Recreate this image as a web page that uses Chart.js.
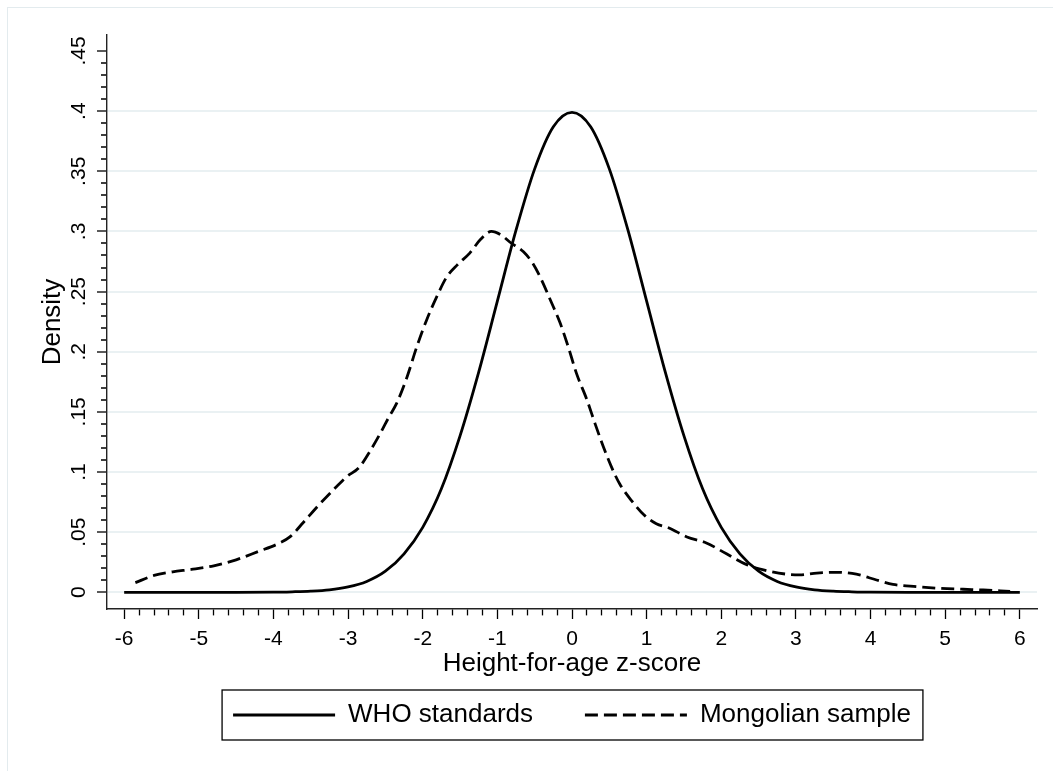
<!DOCTYPE html>
<html>
<head>
<meta charset="utf-8">
<script src="https://cdn.jsdelivr.net/npm/chart.js@4.4.0/dist/chart.umd.min.js"></script>
<style>
  html, body { margin: 0; padding: 0; background: #fff; }
  #wrap { width: 1053px; height: 771px; }
</style>
</head>
<body>
<div id="wrap"><canvas id="densityChart"></canvas></div>
<script>
// WHO standards curve
const whoZ = [-6, -5.5, -5, -4.5, -4, -3.75, -3.5, -3.25, -3, -2.75, -2.5, -2.25, -2, -1.75, -1.5, -1.25, -1, -0.75, -0.5, -0.25,
  0, 0.25, 0.5, 0.75, 1, 1.25, 1.5, 1.75, 2, 2.25, 2.5, 2.75, 3, 3.25, 3.5, 3.75, 4, 4.5, 5, 5.5, 6];
const whoDensity = [0, 0, 0, 0, 0.0001, 0.0004, 0.0009, 0.002, 0.0044, 0.009, 0.0175, 0.032, 0.054, 0.086, 0.130, 0.183, 0.242, 0.301, 0.352, 0.387,
  0.399, 0.387, 0.352, 0.301, 0.242, 0.183, 0.130, 0.086, 0.054, 0.032, 0.0175, 0.009, 0.0044, 0.002, 0.0009, 0.0004, 0.0001, 0, 0, 0, 0];

// Mongolian sample curve
const mongolZ = [-5.85, -5.6, -5.35, -5.1, -4.8, -4.5, -4.2, -3.95, -3.78, -3.6, -3.4, -3.2, -3.02, -2.85, -2.7, -2.57, -2.45, -2.35,
  -2.21, -2.08, -1.95, -1.81, -1.68, -1.54, -1.37, -1.23, -1.08, -0.95, -0.83, -0.65, -0.52, -0.41, -0.29, -0.16, -0.05,
  0.06, 0.2, 0.31, 0.42, 0.53, 0.64, 0.8, 0.97, 1.13, 1.3, 1.54, 1.8, 2.07, 2.34, 2.61, 2.88, 3.05, 3.28, 3.54, 3.81,
  4.08, 4.3, 4.62, 4.93, 5.24, 5.51, 5.87];
const mongolDensity = [0.008, 0.014, 0.017, 0.019, 0.022, 0.027, 0.034, 0.040, 0.046, 0.058, 0.072, 0.085, 0.096, 0.104, 0.118, 0.132, 0.146, 0.157,
  0.179, 0.204, 0.226, 0.246, 0.262, 0.272, 0.282, 0.293, 0.300, 0.297, 0.291, 0.283, 0.273, 0.260, 0.243, 0.224, 0.204,
  0.182, 0.160, 0.140, 0.121, 0.104, 0.090, 0.076, 0.064, 0.057, 0.0535, 0.046, 0.041, 0.032, 0.023, 0.018, 0.015, 0.0145, 0.016, 0.0166, 0.015,
  0.0102, 0.0066, 0.0047, 0.0033, 0.0025, 0.0019, 0.0008];

const seriesNames = ["WHO standards", "Mongolian sample"];
const xTitle = "Height-for-age z-score";
const yTitle = "Density";

function toPoints(xs, ys) {
  return xs.map((x, i) => ({ x: x, y: ys[i] }));
}

function isMajorX(v) { return Math.abs(v - Math.round(v)) < 1e-6; }
function isMajorY(v) { return Math.abs(v * 20 - Math.round(v * 20)) < 1e-6; }

Chart.defaults.font.family = "'Liberation Sans', Arial, Helvetica, sans-serif";
Chart.defaults.color = "#000";

const pageFrame = {
  id: "pageFrame",
  beforeDraw(chart) {
    const ctx = chart.ctx;
    ctx.save();
    ctx.fillStyle = "#fff";
    ctx.fillRect(0, 0, chart.width, chart.height);
    ctx.strokeStyle = "#e3ebee";
    ctx.lineWidth = 1;
    ctx.strokeRect(7.5, 7.5, chart.width + 20, chart.height + 20);
    ctx.restore();
  }
};

// Stata draws a box round the key
const legendFrame = {
  id: "legendFrame",
  afterDraw(chart) {
    const boxes = chart.legend && chart.legend.legendHitBoxes;
    if (!boxes || !boxes.length) return;
    const first = boxes[0];
    const last = boxes[boxes.length - 1];
    const ctx = chart.ctx;
    ctx.save();
    ctx.strokeStyle = "#000";
    ctx.lineWidth = 1.3;
    ctx.strokeRect(first.left - 11, first.top - 12, last.left + last.width - first.left + 23, first.height + 24);
    ctx.restore();
  }
};

new Chart(document.getElementById("densityChart"), {
  type: "line",
  data: {
    datasets: [
      {
        label: seriesNames[0],
        data: toPoints(whoZ, whoDensity),
        borderColor: "#000",
        borderWidth: 2.8,
        pointRadius: 0,
        cubicInterpolationMode: "monotone",
        fill: false
      },
      {
        label: seriesNames[1],
        data: toPoints(mongolZ, mongolDensity),
        borderColor: "#000",
        borderWidth: 2.8,
        borderDash: [13, 6],
        pointRadius: 0,
        cubicInterpolationMode: "monotone",
        fill: false
      }
    ]
  },
  options: {
    responsive: true,
    maintainAspectRatio: false,
    animation: false,
    layout: { padding: { top: 35, left: 30, right: 16, bottom: 33 } },
    plugins: {
      tooltip: { enabled: false },
      legend: {
        position: "bottom",
        fullSize: false,
        labels: {
          usePointStyle: true,
          pointStyle: "line",
          pointStyleWidth: 102,
          padding: 23,
          color: "#000",
          font: { size: 26 },
          generateLabels(chart) {
            const items = Chart.defaults.plugins.legend.labels.generateLabels(chart);
            items.forEach((item, i) => {
              const ds = chart.data.datasets[i];
              item.lineDash = ds.borderDash || [];
              item.lineWidth = 3;
              item.strokeStyle = ds.borderColor;
            });
            items[0].text += "    ";
            return items;
          }
        }
      }
    },
    scales: {
      x: {
        type: "linear",
        min: -6.23,
        max: 6.23,
        afterFit(scale) { scale.height = 70; },
        afterBuildTicks(scale) {
          scale.ticks = scale.ticks.filter(t => t.value >= -6.0001 && t.value <= 6.0001);
        },
        ticks: {
          stepSize: 0.2,
          autoSkip: false,
          includeBounds: false,
          maxRotation: 0,
          minRotation: 0,
          padding: 8,
          font: { size: 21 },
          color: "#000",
          callback(v) { return isMajorX(v) ? String(Math.round(v)) : ""; }
        },
        grid: {
          drawOnChartArea: false,
          tickLength: 10,
          tickColor: "#000",
          tickWidth: 1.3,
          tickBorderDash(ctx) { return ctx.tick && isMajorX(ctx.tick.value) ? [] : [6, 100]; }
        },
        border: { color: "#222", width: 1.4 },
        title: {
          display: true,
          text: xTitle,
          color: "#000",
          font: { size: 26 },
          padding: { top: 0, bottom: 0 }
        }
      },
      y: {
        type: "linear",
        min: -0.0139,
        max: 0.4633,
        afterFit(scale) { scale.width = 77; },
        afterBuildTicks(scale) {
          scale.ticks = scale.ticks.filter(t => t.value >= -0.0001 && t.value <= 0.4501);
        },
        ticks: {
          stepSize: 0.01,
          autoSkip: false,
          includeBounds: false,
          minRotation: 90,
          maxRotation: 90,
          crossAlign: "center",
          padding: 3,
          font: { size: 21 },
          color: "#000",
          callback(v) {
            if (!isMajorY(v)) return "";
            const r = Math.round(v * 100) / 100;
            return r === 0 ? "0" : String(r).replace(/^0\./, ".");
          }
        },
        grid: {
          lineWidth: 2,
          color(ctx) {
            if (!ctx.tick) return "rgba(0,0,0,0)";
            const v = ctx.tick.value;
            return isMajorY(v) && v < 0.449 ? "#eaf1f3" : "rgba(0,0,0,0)";
          },
          tickLength: 10,
          tickColor: "#000",
          tickWidth: 1.3,
          tickBorderDash(ctx) { return ctx.tick && isMajorY(ctx.tick.value) ? [] : [0, 4, 6, 100]; }
        },
        border: { color: "#222", width: 1.4 },
        title: {
          display: true,
          text: yTitle,
          color: "#000",
          font: { size: 26 },
          padding: { top: 7, bottom: 0 }
        }
      }
    }
  },
  plugins: [pageFrame, legendFrame]
});
</script>
</body>
</html>
